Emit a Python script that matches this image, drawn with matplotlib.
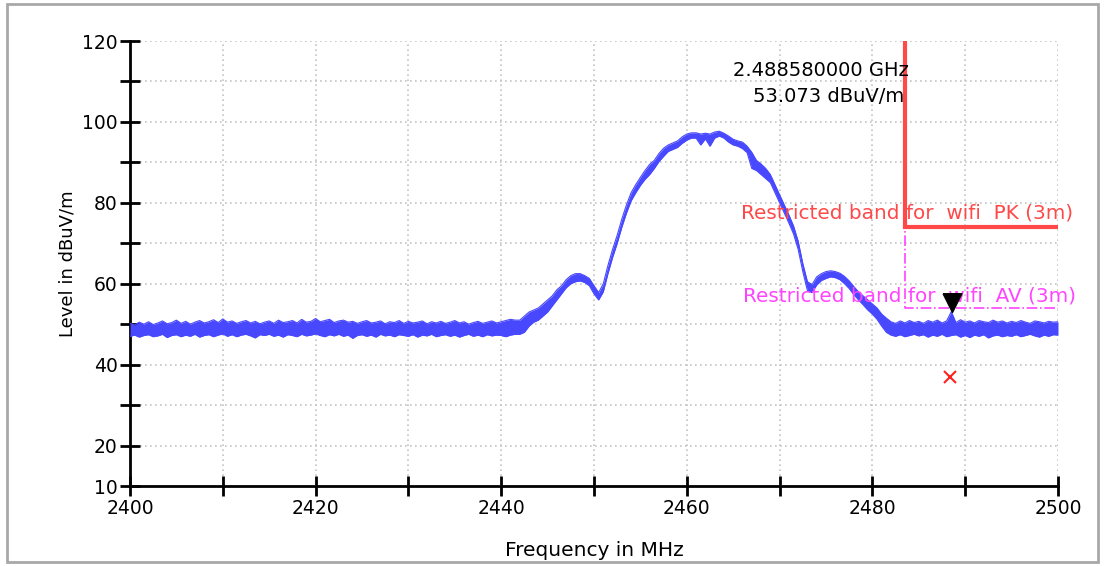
import numpy as np
import matplotlib
matplotlib.use('Agg')
import matplotlib.pyplot as plt
from matplotlib.patches import Rectangle
from matplotlib.ticker import MultipleLocator, FuncFormatter

# Spectrum sweep 2400-2500 MHz, 0.5 MHz steps: upper / lower edge of the noisy trace (dBuV/m)
freq_start, freq_stop, freq_step = 2400.0, 2500.0, 0.5
level_hi = [
    50.2, 49.8, 50.5, 50.0, 50.6, 49.9, 50.3, 50.8, 50.1, 50.4,
    51.0, 50.2, 50.7, 50.0, 50.5, 50.9, 50.3, 50.6, 51.1, 50.4,
    51.3, 50.5, 50.8, 50.2, 50.6, 50.9, 50.3, 50.7, 50.1, 50.5,
    50.8, 50.2, 51.0, 50.4, 50.6, 50.9, 50.3, 51.2, 50.5, 50.7,
    51.4, 50.6, 50.9, 51.2, 50.4, 50.8, 51.0, 50.5, 50.7, 50.2,
    50.6, 50.9, 50.3, 50.5, 50.8, 50.1, 50.6, 50.4, 50.9, 50.2,
    50.7, 50.3, 50.5, 50.8, 50.1, 50.6, 50.3, 50.7, 50.2, 50.5,
    50.9, 50.3, 50.6, 50.0, 50.4, 50.7, 50.2, 50.5, 50.8, 50.3,
    50.6, 50.9, 51.2, 51.0, 51.0, 52.0, 53.0, 53.5, 54.0, 55.0,
    56.0, 57.0, 58.5, 59.5, 61.0, 62.0, 62.5, 62.5, 62.0, 61.3,
    59.5, 57.8, 60.0, 64.5, 68.5, 72.0, 76.0, 79.5, 82.5, 84.5,
    86.3, 88.0, 89.5, 90.5, 92.2, 93.5, 94.3, 94.8, 95.3, 96.3,
    97.0, 97.3, 97.3, 97.0, 97.2, 97.0, 97.5, 97.7, 97.2, 96.5,
    95.7, 95.3, 95.0, 94.0, 92.5, 90.5, 89.6, 88.5, 87.0, 84.5,
    82.0, 79.5, 77.0, 74.3, 70.5, 65.0, 60.5, 59.8, 61.7, 62.5,
    63.0, 63.2, 63.0, 62.6, 61.8, 60.7, 59.3, 58.0, 57.0, 56.0,
    55.0, 54.0, 52.5, 51.5, 50.6, 50.2, 50.8, 50.3, 50.9, 50.4,
    50.7, 50.2, 50.9, 50.5, 51.0, 50.3, 50.8, 53.1, 50.4, 51.1,
    50.5, 50.8, 50.3, 50.9, 50.6, 50.4, 51.0, 50.5, 50.8, 50.3,
    50.7, 50.4, 50.9, 50.5, 50.2, 50.8, 50.6, 50.3, 50.7, 50.5,
    50.6,
]
level_lo = [
    47.0, 47.3, 46.8, 47.2, 47.4, 46.9, 47.1, 47.5, 46.7, 47.2,
    47.4, 46.9, 47.3, 47.0, 47.5, 46.8, 47.2, 47.4, 46.9, 47.3,
    47.6, 47.0, 47.4, 46.9, 47.3, 47.5, 47.1, 46.6, 47.4, 47.2,
    47.5, 47.0, 47.3, 46.8, 47.4, 47.2, 46.9, 47.5, 47.1, 47.3,
    47.6, 47.2, 46.9, 47.4, 47.1, 47.5, 47.0, 47.3, 46.5, 47.2,
    47.4, 47.0, 47.3, 46.8, 47.5, 47.1, 47.3, 46.9, 47.4, 47.2,
    47.0, 47.4, 46.8, 47.3, 47.1, 47.5, 46.9, 47.2, 47.4, 47.0,
    47.3, 46.8, 47.2, 47.5, 47.0, 47.3, 46.9, 47.4, 47.1, 47.3,
    47.2, 46.9, 47.3, 47.5, 47.5, 48.0, 49.5, 50.5, 51.0, 52.0,
    53.0, 54.5, 56.0, 57.5, 59.0, 60.0, 60.5, 60.7, 60.3, 59.5,
    57.5, 56.0, 58.0, 62.5, 66.5, 70.0, 74.0, 77.5, 80.5, 82.5,
    84.3, 85.8, 87.0, 88.5, 90.2, 91.5, 92.7, 93.2, 93.7, 94.7,
    95.5, 96.0, 96.0, 94.3, 95.8, 94.0, 96.0, 96.5, 96.0, 95.0,
    94.3, 94.0, 93.4, 92.4, 88.5, 88.0, 87.0, 86.0, 85.0, 82.5,
    80.0, 77.5, 75.0, 72.3, 68.5, 63.0, 58.3, 57.8, 59.7, 60.8,
    61.3, 61.7, 61.5, 61.0, 60.0, 58.8, 57.3, 56.0, 54.8, 53.5,
    52.5, 51.2, 49.5, 48.0, 47.3, 47.0, 47.4, 46.9, 47.2, 47.5,
    47.1, 47.4, 46.8, 47.3, 47.0, 47.5, 46.9, 47.2, 47.4, 46.8,
    47.2, 46.7, 47.3, 47.0, 47.4, 46.6, 47.1, 47.3, 46.9, 47.2,
    47.0, 47.4, 46.9, 47.2, 47.5, 47.1, 46.8, 47.3, 47.0, 47.4,
    47.3,
]

# Limit lines (restricted band starts at 2483.5 MHz)
band_edge = 2483.5
limit_pk = 74.0
limit_av = 54.0

# Marker / final result
marker_freq = 2488.58
marker_level = 53.073
result_freq = 2488.4
result_level = 36.9

freq = np.arange(freq_start, freq_stop + freq_step / 2, freq_step)

trace_color = '#4848ff'
pk_color = '#ff4848'
av_color = '#ff44ff'

fig = plt.figure(figsize=(11.04, 5.66), dpi=100)
ax = fig.add_axes([130 / 1104, 80 / 566, 928 / 1104, 445 / 566])

# outer frame of the window
fig.add_artist(Rectangle((7 / 1104, 4 / 566), 1091 / 1104, 558 / 566,
                         transform=fig.transFigure, fill=False,
                         edgecolor='#a8a8a8', linewidth=2))

ax.fill_between(freq, level_lo, level_hi, color=trace_color, linewidth=0, zorder=3)
ax.plot(freq, level_hi, color=trace_color, linewidth=0.8, zorder=3)
ax.plot(freq, level_lo, color=trace_color, linewidth=0.8, zorder=3)

# AV limit (dash-dot magenta)
ax.plot([band_edge, band_edge, freq_stop], [120, limit_av, limit_av],
        color=av_color, linewidth=1.2, linestyle='-.', zorder=4)
# PK limit (solid red)
ax.plot([band_edge, band_edge, freq_stop], [120, limit_pk, limit_pk],
        color=pk_color, linewidth=3, zorder=5, solid_joinstyle='miter')

ax.text(2501.6, 77.6, 'Restricted band for  wifi  PK (3m)', color=pk_color,
        ha='right', va='center', fontsize=14.4, clip_on=False, zorder=6)
ax.text(2501.9, 56.9, 'Restricted band for  wifi  AV (3m)', color=av_color,
        ha='right', va='center', fontsize=14.4, clip_on=False, zorder=6)

# marker triangle with tip on the trace point
tri = [(-0.5, 1.0), (0.5, 1.0), (0.0, 0.0), (-0.5, 1.0)]
ax.plot([marker_freq], [marker_level], marker=tri, markersize=27,
        color='black', linestyle='none', zorder=7)
ax.plot([result_freq], [result_level], marker='x', markersize=9,
        markeredgewidth=1.5, color='#ff2020', linestyle='none', zorder=7)

ax.text(2483.9, 112.6, '2.488580000 GHz', ha='right', va='center', fontsize=14, zorder=6)
ax.text(2483.4, 106.2, '53.073 dBuV/m', ha='right', va='center', fontsize=14, zorder=6)

ax.set_xlim(freq_start, freq_stop)
ax.set_ylim(10, 120)
ax.xaxis.set_major_locator(MultipleLocator(10))
ax.yaxis.set_major_locator(MultipleLocator(10))
ax.xaxis.set_major_formatter(FuncFormatter(lambda v, p: f'{v:.0f}' if round(v) % 20 == 0 else ''))
y_labels = {10, 20, 40, 60, 80, 100, 120}
ax.yaxis.set_major_formatter(FuncFormatter(lambda v, p: f'{v:.0f}' if round(v) in y_labels else ''))

ax.grid(True, color='#c4c4c4', linestyle=(0, (1, 2)), linewidth=1.2, zorder=0)
for s in ['top', 'right']:
    ax.spines[s].set_visible(False)
for s in ['left', 'bottom']:
    ax.spines[s].set_linewidth(2)
ax.tick_params(direction='inout', length=14, width=2, labelsize=13.5, pad=2)

ax.set_xlabel('Frequency in MHz', fontsize=14.5, labelpad=17)
ax.set_ylabel('Level in dBuV/m', fontsize=13, labelpad=4)

fig.savefig('out.png', dpi=100)
